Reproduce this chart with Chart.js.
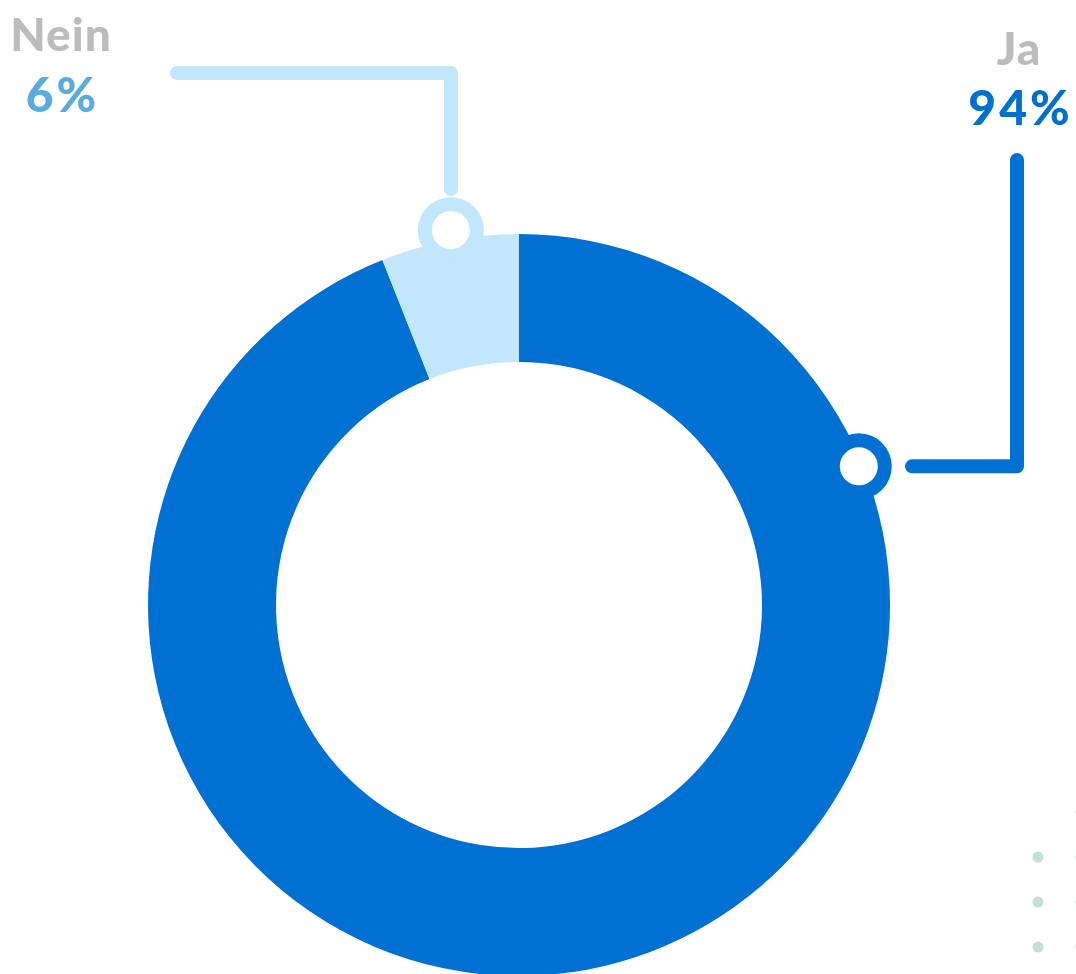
<!DOCTYPE html>
<html lang="de">
<head>
<meta charset="utf-8">
<title>Ja / Nein</title>
<script src="https://cdn.jsdelivr.net/npm/chart.js@4/dist/chart.umd.min.js"></script>
<style>
  html, body { margin: 0; padding: 0; background: #ffffff; overflow: hidden; }
  #wrap { position: absolute; left: 0; top: 0; width: 1076px; height: 1100px; }
</style>
</head>
<body>
<div id="wrap"><canvas id="chart" width="1076" height="1100"></canvas></div>
<script>
// Answer categories and their shares (percent)
const categories = ['Ja', 'Nein'];
const shares = [94, 6];
const sliceColors = ['#0071d2', '#c2e6fc'];
const valueColors = ['#0070cf', '#5aacdc'];
const nameColor = '#bcbcbc';

const FONT = '"Lato", "Open Sans", "Noto Sans", sans-serif';

// Callout markers on the ring edge with elbow leader lines and labels
const calloutPlugin = {
  id: 'callouts',
  afterDraw(chart, args, opts) {
    const ctx = chart.ctx;
    const arc = chart.getDatasetMeta(0).data[0];
    const cx = arc.x, cy = arc.y, R = arc.outerRadius;

    opts.items.forEach((item, i) => {
      const color = sliceColors[i];
      const a = item.angle * Math.PI / 180;
      const mx = cx + (R + item.offset) * Math.sin(a);
      const my = cy - (R + item.offset) * Math.cos(a);

      // leader line
      ctx.save();
      ctx.strokeStyle = color;
      ctx.lineWidth = 14;
      ctx.lineCap = 'round';
      ctx.lineJoin = 'round';
      ctx.beginPath();
      item.path.forEach((p, k) => {
        const px = p[0] === 'm' ? mx + p[1] : p[0];
        const py = p[2] === undefined ? (p[1] === 'm' ? my : p[1]) : p[2];
        if (k === 0) ctx.moveTo(px, py); else ctx.lineTo(px, py);
      });
      ctx.stroke();

      // ring marker
      ctx.fillStyle = color;
      ctx.beginPath();
      ctx.arc(mx, my, 33, 0, Math.PI * 2);
      ctx.fill();
      ctx.fillStyle = '#ffffff';
      ctx.beginPath();
      ctx.arc(mx, my, 19, 0, Math.PI * 2);
      ctx.fill();

      // label: name and value
      ctx.textAlign = 'center';
      ctx.textBaseline = 'alphabetic';
      ctx.font = '900 46px ' + FONT;
      ctx.letterSpacing = '1px';
      ctx.fillStyle = nameColor;
      ctx.fillText(categories[i], item.textX, item.nameY);
      ctx.font = '900 48px ' + FONT;
      ctx.letterSpacing = '3px';
      ctx.fillStyle = valueColors[i];
      ctx.fillText(shares[i] + '%', item.textX + 1.5, item.valueY);
      ctx.restore();
    });

    // small decorative dots
    ctx.save();
    ctx.fillStyle = '#c6ddd9';
    opts.dots.forEach(d => {
      ctx.beginPath();
      ctx.arc(d[0], d[1], 5.5, 0, Math.PI * 2);
      ctx.fill();
    });
    ctx.restore();
  }
};

new Chart(document.getElementById('chart'), {
  type: 'doughnut',
  data: {
    labels: categories,
    datasets: [{
      data: shares,
      backgroundColor: sliceColors,
      borderWidth: 0,
      hoverOffset: 0
    }]
  },
  options: {
    responsive: false,
    animation: false,
    cutout: '65.5%',
    layout: { padding: { left: 148, right: 186, top: 234, bottom: 124 } },
    plugins: {
      legend: { display: false },
      tooltip: { enabled: false },
      callouts: {
        items: [
          { angle: 67.8, offset: -4,
            path: [[905 + 7, 'm'], [1017, 'm'], [1017, 160]],
            textX: 1019, nameY: 65, valueY: 125 },
          { angle: -10.3, offset: 10,
            path: [[451, 189], [451, 73], [177, 73]],
            textX: 61, nameY: 51, valueY: 112 }
        ],
        dots: [[1038, 857], [1038, 902], [1038, 947],
               [1081, 812], [1081, 857], [1081, 902], [1081, 947]]
      }
    }
  },
  plugins: [calloutPlugin]
});
</script>
</body>
</html>
